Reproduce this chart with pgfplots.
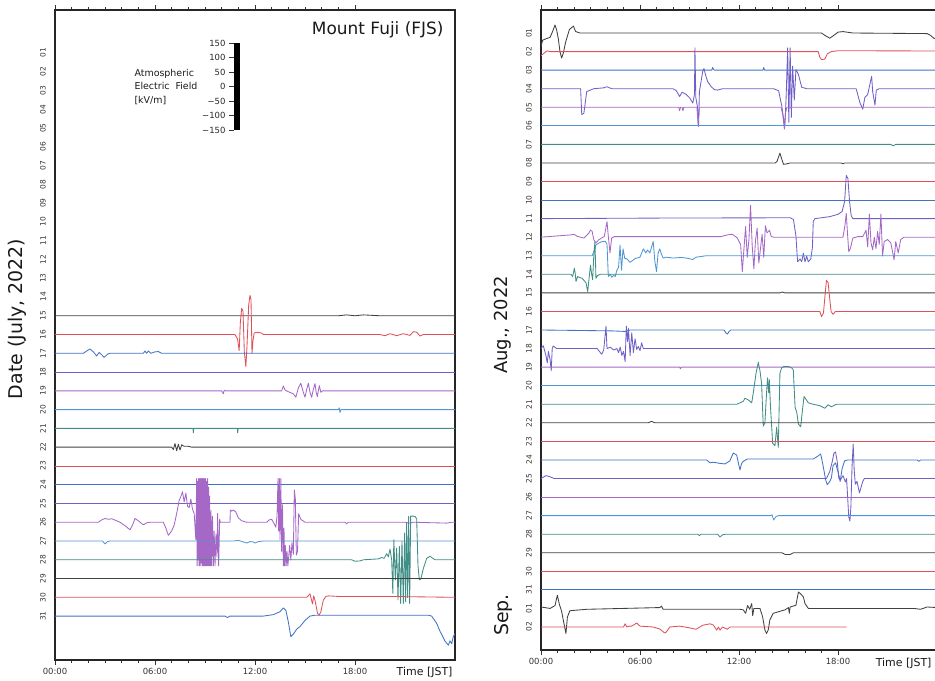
\documentclass[border=0pt]{standalone}
\usepackage{pgfplots}
\pgfplotsset{compat=1.18}
\usepackage{fontspec}
\setmainfont{DejaVu Sans}
\definecolor{cK}{HTML}{404040}
\definecolor{cR}{HTML}{E0505A}
\definecolor{cB}{HTML}{4272C4}
\definecolor{cS}{HTML}{6E60C6}
\definecolor{cP}{HTML}{A668C6}
\definecolor{cL}{HTML}{5096D4}
\definecolor{cT}{HTML}{408E86}
\newcommand{\tr}[3]{\addplot[#2, line width=0.85bp, line join=round] table[row sep=\\, x index=0, y expr={#1-\thisrowno{1}/64.5}] {#3};}
\pgfplotsset{
 panel/.style={
  scale only axis, xmin=0, xmax=24, y dir=reverse,
  xtick={0,6,12,18}, xticklabels={00:00,06:00,12:00,18:00},
  minor x tick num=5, tick align=outside,
  major tick length=5bp, minor tick length=3bp,
  axis line style={line width=1.3bp, draw=black!85},
  xtick style={black!80, line width=0.6bp},
  ytick style={draw=none},
  x tick label style={font=\fontsize{8.5}{9}\selectfont, text=black!80},
  y tick label style={font=\fontsize{7.5}{7.5}\selectfont, rotate=90, anchor=south, inner sep=4bp, text=black!80},
 }
}
\begin{document}
\begin{tikzpicture}
\path[use as bounding box] (0bp,0bp) rectangle (935bp,681bp);
% ---------------- LEFT PANEL (July) ----------------
\begin{axis}[panel, at={(55bp,21bp)}, anchor=south west, width=400bp, height=650bp,
  ymin=-1.29, ymax=33.34,
  ytick={1,...,31},
  yticklabels={01,02,03,04,05,06,07,08,09,10,11,12,13,14,15,16,17,18,19,20,21,22,23,24,25,26,27,28,29,30,31}]
\tr{15}{cK}{0 0\\ 17 0\\ 17.5 3\\ 18 0\\ 18.5 3\\ 19.5 0\\ 24 0\\}
\tr{16}{cR}{0 0\\ 10.8 0\\ 10.95 -15\\ 11.05 -55\\ 11.12 40\\ 11.2 90\\ 11.28 80\\ 11.36 -60\\ 11.45 -110\\ 11.52 -40\\ 11.62 100\\ 11.7 135\\ 11.76 120\\ 11.82 -65\\ 11.88 -20\\ 11.95 5\\ 12.1 8\\ 12.4 5\\ 12.5 0\\ 19.5 0\\ 19.8 -4\\ 20.1 3\\ 20.5 -4\\ 20.9 3\\ 21.3 -3\\ 21.5 10\\ 21.7 8\\ 21.9 -5\\ 22.1 0\\ 24 0\\}
\tr{17}{cB}{0 0\\ 1.7 0\\ 1.9 8\\ 2.1 15\\ 2.3 5\\ 2.5 -9\\ 2.65 3\\ 2.8 -5\\ 2.95 -14\\ 3.15 -3\\ 3.3 0\\ 5.3 0\\ 5.4 8\\ 5.5 0\\ 5.6 8\\ 5.75 0\\ 6.0 5\\ 6.2 6\\ 6.4 0\\ 24 0\\}
\tr{18}{cS}{0 0\\ 24 0\\}
\tr{19}{cP}{0 0\\ 10.0 0\\ 10.1 -10\\ 10.15 2\\ 10.25 0\\ 13.6 0\\ 13.7 17\\ 13.8 3\\ 14.0 -3\\ 14.3 -10\\ 14.45 -22\\ 14.6 10\\ 14.75 26\\ 14.9 -5\\ 15.0 -22\\ 15.1 5\\ 15.2 26\\ 15.3 -5\\ 15.4 -22\\ 15.5 5\\ 15.6 25\\ 15.67 -5\\ 15.74 -20\\ 15.8 0\\ 15.86 18\\ 15.95 -5\\ 16.05 0\\ 24 0\\}
\tr{20}{cL}{0 0\\ 17.0 0\\ 17.05 6\\ 17.1 -10\\ 17.15 0\\ 24 0\\}
\tr{21}{cT}{0 0\\ 8.28 0\\ 8.3 -15\\ 8.33 0\\ 10.94 0\\ 10.96 -15\\ 10.99 0\\ 24 0\\}
\tr{22}{cK}{0 0\\ 7.0 0\\ 7.1 -8\\ 7.2 12\\ 7.3 -12\\ 7.4 10\\ 7.5 -10\\ 7.6 8\\ 7.75 3\\ 8.0 3\\ 8.2 0\\ 24 0\\}
\tr{23}{cR}{0 0\\ 24 0\\}
\tr{24}{cB}{0 0\\ 24 0\\}
\tr{25}{cS}{0 0\\ 24 0\\}
\tr{26}{cP}{0 0\\ 2.6 0\\ 2.8 8\\ 3.0 13\\ 3.2 10\\ 3.4 12\\ 3.7 5\\ 3.9 0\\ 4.2 -12\\ 4.5 -26\\ 4.65 -10\\ 4.8 13\\ 5.0 5\\ 5.3 -9\\ 5.5 -2\\ 5.7 0\\ 6.5 0\\ 6.65 -20\\ 6.8 -45\\ 7.0 -30\\ 7.15 -10\\ 7.3 30\\ 7.45 75\\ 7.55 88\\ 7.65 105\\ 7.75 70\\ 7.85 100\\ 7.95 55\\ 8.05 50\\ 8.15 80\\ 8.25 45\\ 8.35 30\\ 8.45 -60\\ 8.5 150\\ 8.53 -150\\ 8.56 140\\ 8.59 -130\\ 8.62 150\\ 8.65 -150\\ 8.68 150\\ 8.71 -150\\ 8.74 150\\ 8.77 -140\\ 8.8 150\\ 8.83 -150\\ 8.86 150\\ 8.89 -150\\ 8.92 150\\ 8.95 -150\\ 8.98 150\\ 9.01 -150\\ 9.04 150\\ 9.07 -150\\ 9.1 140\\ 9.13 -150\\ 9.16 150\\ 9.19 -150\\ 9.22 120\\ 9.25 -150\\ 9.28 90\\ 9.32 -150\\ 9.36 40\\ 9.4 -150\\ 9.45 20\\ 9.5 -150\\ 9.55 -30\\ 9.6 -150\\ 9.66 -40\\ 9.72 -120\\ 9.76 30\\ 9.82 -150\\ 9.88 10\\ 9.92 0\\ 10.5 0\\ 10.52 42\\ 10.6 38\\ 10.7 42\\ 10.85 35\\ 11.0 15\\ 11.2 5\\ 11.5 0\\ 12.7 0\\ 12.85 8\\ 13.0 10\\ 13.15 -5\\ 13.25 -17\\ 13.32 20\\ 13.38 150\\ 13.42 -30\\ 13.46 150\\ 13.5 -60\\ 13.55 150\\ 13.6 -100\\ 13.65 60\\ 13.7 -150\\ 13.74 -20\\ 13.78 -150\\ 13.82 -80\\ 13.87 -150\\ 13.92 -100\\ 13.97 -150\\ 14.02 -120\\ 14.08 -80\\ 14.15 -130\\ 14.22 -70\\ 14.3 -110\\ 14.36 111\\ 14.42 80\\ 14.48 -113\\ 14.55 -100\\ 14.62 29\\ 14.75 10\\ 15.0 0\\ 17.4 0\\ 17.5 -5\\ 17.6 0\\ 21.0 0\\ 21.3 -3\\ 21.5 0\\ 23.5 -3\\ 23.8 0\\ 24 0\\}
\tr{27}{cL}{0 0\\ 2.85 0\\ 3.0 -10\\ 3.15 -2\\ 3.3 0\\ 10.7 0\\ 11.0 2\\ 11.3 -3\\ 11.5 -7\\ 11.7 -2\\ 11.9 -3\\ 12.0 -7\\ 12.2 -2\\ 12.5 0\\ 24 0\\}
\tr{28}{cT}{0 0\\ 17.8 0\\ 18.0 -5\\ 18.3 -4\\ 18.5 0\\ 19.4 3\\ 19.6 8\\ 19.75 5\\ 19.9 21\\ 20.0 10\\ 20.1 37\\ 20.2 0\\ 20.27 -115\\ 20.33 69\\ 20.42 -69\\ 20.5 40\\ 20.58 -138\\ 20.66 46\\ 20.74 -150\\ 20.82 63\\ 20.9 -150\\ 20.98 92\\ 21.04 -144\\ 21.1 126\\ 21.16 -130\\ 21.22 149\\ 21.28 -150\\ 21.34 150\\ 21.5 150\\ 21.62 148\\ 21.7 140\\ 21.78 -20\\ 21.86 -69\\ 21.95 -66\\ 22.1 -30\\ 22.3 5\\ 22.5 12\\ 22.8 0\\ 24 0\\}
\tr{29}{cK}{0 0\\ 24 0\\}
\tr{30}{cR}{0 0\\ 15.1 0\\ 15.3 12\\ 15.45 -23\\ 15.52 5\\ 15.6 -10\\ 15.75 -55\\ 15.85 -61\\ 15.95 -50\\ 16.1 -10\\ 16.25 3\\ 16.4 5\\ 17 3\\ 20 3\\ 24 0\\}
\tr{31}{cB}{0 0\\ 10.2 0\\ 10.35 -5\\ 10.5 0\\ 12.5 0\\ 13.1 5\\ 13.5 15\\ 13.7 28\\ 13.85 20\\ 14.0 -20\\ 14.15 -71\\ 14.3 -62\\ 14.5 -45\\ 14.7 -36\\ 15.0 -15\\ 15.3 0\\ 15.6 3\\ 22.4 3\\ 22.6 0\\ 22.9 -25\\ 23.1 -52\\ 23.4 -86\\ 23.6 -100\\ 23.7 -85\\ 23.8 -95\\ 23.9 -70\\ 24 -60\\}
\end{axis}
% ---------------- SCALE BAR ----------------
\begin{axis}[at={(234bp,551bp)}, anchor=south west, scale only axis, width=6bp, height=87bp,
  xmin=0, xmax=1, ymin=-150, ymax=150, axis x line=none, axis y line*=left,
  ytick={-150,-100,-50,0,50,100,150}, yticklabels={−150,−100,−50,0,50,100,150},
  tick align=outside, major tick length=5bp, ytick style={black!80, line width=0.6bp},
  y tick label style={font=\fontsize{8.5}{9}\selectfont, text=black!85}]
\addplot[black, line width=6bp] coordinates {(0.5,-150) (0.5,150)};
\end{axis}
% ---------------- RIGHT PANEL (Aug/Sep) ----------------
\begin{axis}[panel, at={(541bp,31bp)}, anchor=south west, width=396bp, height=640bp,
  ymin=-0.24, ymax=34.24,
  ytick={1,...,33},
  yticklabels={01,02,03,04,05,06,07,08,09,10,11,12,13,14,15,16,17,18,19,20,21,22,23,24,25,26,27,28,29,30,31,01,02}]
\tr{1}{cK}{0 -47\\ 0.1 -25\\ 0.3 -20\\ 0.55 -15\\ 0.7 5\\ 0.85 28\\ 0.95 10\\ 1.05 -20\\ 1.15 -65\\ 1.25 -87\\ 1.35 -70\\ 1.5 -30\\ 1.72 12\\ 1.96 24\\ 2.1 5\\ 2.36 0\\ 17.0 0\\ 17.2 -8\\ 17.5 -18\\ 17.7 -10\\ 18.0 3\\ 18.3 5\\ 18.9 0\\ 23.4 -2\\ 23.6 -8\\ 23.8 -18\\ 24 -20\\}
\tr{2}{cR}{0 -14\\ 0.2 -5\\ 0.35 2\\ 0.6 0\\ 16.8 0\\ 16.9 -20\\ 17.0 -28\\ 17.2 -26\\ 17.35 -8\\ 17.6 0\\ 18.0 3\\ 24 2\\}
\tr{3}{cB}{0 0\\ 10.35 0\\ 10.4 9\\ 10.45 3\\ 10.5 0\\ 13.45 0\\ 13.5 9\\ 13.55 0\\ 24 0\\}
\tr{4}{cS}{0 0\\ 2.4 0\\ 2.47 -90\\ 2.6 -85\\ 2.77 -10\\ 3.2 0\\ 3.8 3\\ 4.0 7\\ 4.15 3\\ 4.3 0\\ 8.0 0\\ 8.2 -7\\ 8.4 -27\\ 8.55 -12\\ 8.8 -20\\ 9.0 -31\\ 9.2 -50\\ 9.3 -20\\ 9.33 142\\ 9.38 -30\\ 9.48 -62\\ 9.55 -131\\ 9.6 -10\\ 9.7 25\\ 9.8 60\\ 9.88 70\\ 9.96 50\\ 10.1 25\\ 10.3 8\\ 10.5 -3\\ 10.7 -5\\ 11.0 0\\ 14.1 0\\ 14.4 -7\\ 14.6 -62\\ 14.77 -135\\ 14.85 -40\\ 14.95 142\\ 15.02 -117\\ 15.1 142\\ 15.17 -100\\ 15.25 78\\ 15.35 -40\\ 15.45 66\\ 15.6 50\\ 15.8 5\\ 16.1 0\\ 19.1 0\\ 19.33 -49\\ 19.5 -71\\ 19.63 -30\\ 19.8 -20\\ 19.95 20\\ 20.04 43\\ 20.1 -10\\ 20.24 -57\\ 20.32 -5\\ 20.5 0\\ 24 0\\}
\tr{5}{cP}{0 0\\ 8.35 0\\ 8.4 -12\\ 8.45 0\\ 8.55 0\\ 8.6 -12\\ 8.65 0\\ 9.45 0\\ 9.52 -62\\ 9.56 -30\\ 9.6 0\\ 14.55 0\\ 14.65 -25\\ 14.75 -76\\ 14.82 -20\\ 14.9 0\\ 24 0\\}
\tr{6}{cL}{0 0\\ 24 0\\}
\tr{7}{cT}{0 0\\ 21.2 0\\ 21.35 -5\\ 21.5 0\\ 24 0\\}
\tr{8}{cK}{0 0\\ 14.2 0\\ 14.3 5\\ 14.48 34\\ 14.58 15\\ 14.7 -5\\ 14.9 -3\\ 15.1 0\\ 18.2 0\\ 18.3 -3\\ 18.4 0\\ 24 0\\}
\tr{9}{cR}{0 0\\ 24 0\\}
\tr{10}{cB}{0 0\\ 24 0\\}
\tr{11}{cS}{0 0\\ 7.4 2\\ 15.1 3\\ 15.3 -3\\ 15.45 -60\\ 15.55 -150\\ 15.7 -140\\ 15.8 -150\\ 15.9 -120\\ 16.0 -150\\ 16.1 -130\\ 16.2 -150\\ 16.35 -140\\ 16.45 -100\\ 16.5 -10\\ 16.6 0\\ 17.0 3\\ 17.5 7\\ 18.0 15\\ 18.25 25\\ 18.4 60\\ 18.5 150\\ 18.6 140\\ 18.7 60\\ 18.8 10\\ 18.9 0\\ 24 0\\}
\tr{12}{cP}{0 0\\ 1.8 8\\ 2.0 10\\ 2.2 3\\ 2.6 -3\\ 2.9 14\\ 3.0 25\\ 3.1 20\\ 3.2 -9\\ 3.33 -20\\ 3.5 -9\\ 3.84 3\\ 4.0 54\\ 4.08 3\\ 4.18 -55\\ 4.28 -3\\ 4.44 2\\ 10.9 2\\ 11.3 8\\ 11.6 10\\ 11.9 -3\\ 12.1 -26\\ 12.2 -120\\ 12.3 -40\\ 12.4 37\\ 12.5 -70\\ 12.6 -10\\ 12.7 111\\ 12.8 -30\\ 12.9 -110\\ 13.0 -10\\ 13.1 31\\ 13.2 -90\\ 13.3 -40\\ 13.4 10\\ 13.5 -70\\ 13.6 40\\ 13.7 15\\ 13.85 24\\ 13.95 3\\ 14.1 0\\ 18.3 0\\ 18.42 40\\ 18.5 83\\ 18.58 10\\ 18.65 -50\\ 18.75 -39\\ 18.9 -3\\ 19.2 2\\ 19.5 2\\ 19.7 24\\ 19.8 -34\\ 19.9 80\\ 20.0 -20\\ 20.1 -44\\ 20.2 0\\ 20.3 -40\\ 20.4 20\\ 20.5 -25\\ 20.6 80\\ 20.7 -65\\ 20.8 -15\\ 21.0 -8\\ 21.2 -20\\ 21.4 -78\\ 21.5 -15\\ 21.65 -55\\ 21.8 -8\\ 22.0 0\\ 24 0\\}
\tr{13}{cL}{0 0\\ 3.1 0\\ 3.2 14\\ 3.33 38\\ 3.5 44\\ 3.7 49\\ 3.9 50\\ 4.0 40\\ 4.08 -72\\ 4.2 -65\\ 4.3 -75\\ 4.4 -68\\ 4.5 -72\\ 4.6 -50\\ 4.7 -40\\ 4.79 37\\ 4.88 -50\\ 4.97 24\\ 5.08 -10\\ 5.19 -10\\ 5.4 -23\\ 5.7 -10\\ 6.0 -5\\ 6.2 24\\ 6.35 10\\ 6.45 20\\ 6.6 10\\ 6.8 50\\ 6.9 -19\\ 7.0 -55\\ 7.1 10\\ 7.2 24\\ 7.3 5\\ 7.4 -8\\ 7.6 -5\\ 8.0 -8\\ 8.5 -6\\ 8.8 -8\\ 9.2 -13\\ 9.4 -5\\ 10.0 0\\ 24 0\\}
\tr{14}{cT}{0 0\\ 1.82 0\\ 1.92 -8\\ 2.02 21\\ 2.07 5\\ 2.12 -25\\ 2.22 -8\\ 2.5 -14\\ 2.73 -30\\ 2.83 -60\\ 2.93 -5\\ 3.0 32\\ 3.07 0\\ 3.13 -19\\ 3.2 66\\ 3.27 113\\ 3.33 -14\\ 3.43 -4\\ 3.6 0\\ 24 0\\}
\tr{15}{cK}{0 0\\ 14.5 0\\ 14.6 3\\ 14.8 0\\ 24 0\\}
\tr{16}{cR}{0 0\\ 16.9 0\\ 17.0 -18\\ 17.12 -5\\ 17.22 60\\ 17.3 108\\ 17.4 100\\ 17.48 55\\ 17.58 0\\ 17.7 -10\\ 17.85 0\\ 24 0\\}
\tr{17}{cB}{0 0\\ 4.3 -3\\ 5.1 -5\\ 5.4 0\\ 11.1 0\\ 11.2 -10\\ 11.3 -14\\ 11.4 -5\\ 11.5 0\\ 24 0\\}
\tr{18}{cS}{0 0\\ 0.14 10\\ 0.3 -25\\ 0.38 -50\\ 0.45 -10\\ 0.55 -38\\ 0.62 -77\\ 0.68 0\\ 0.74 9\\ 0.95 0\\ 3.4 0\\ 3.68 -20\\ 3.8 -5\\ 3.94 78\\ 4.0 0\\ 4.2 5\\ 4.4 -5\\ 4.6 0\\ 4.7 -14\\ 4.8 5\\ 4.9 -24\\ 5.0 -10\\ 5.1 -45\\ 5.17 78\\ 5.25 24\\ 5.3 70\\ 5.4 -24\\ 5.5 55\\ 5.6 -14\\ 5.7 34\\ 5.8 -3\\ 5.9 7\\ 6.0 -7\\ 6.1 20\\ 6.2 0\\ 24 0\\}
\tr{19}{cP}{0 0\\ 8.4 0\\ 8.45 -6\\ 8.5 0\\ 24 0\\}
\tr{20}{cL}{0 0\\ 24 0\\}
\tr{21}{cT}{0 0\\ 11.86 0\\ 12.26 10\\ 12.36 21\\ 12.56 15\\ 12.77 5\\ 12.87 41\\ 13.03 107\\ 13.17 146\\ 13.27 117\\ 13.37 71\\ 13.47 -76\\ 13.57 -65\\ 13.67 40\\ 13.73 92\\ 13.8 40\\ 13.84 85\\ 13.9 0\\ 14.04 -136\\ 14.18 -144\\ 14.28 -80\\ 14.38 -150\\ 14.48 107\\ 14.58 126\\ 14.72 131\\ 15.0 131\\ 15.2 126\\ 15.29 120\\ 15.4 -11\\ 15.5 -28\\ 15.6 -69\\ 15.74 -78\\ 15.84 -23\\ 15.94 27\\ 16.06 17\\ 16.2 5\\ 16.5 0\\ 16.9 -5\\ 17.2 -14\\ 17.4 -2\\ 17.6 -9\\ 17.9 0\\ 24 0\\}
\tr{22}{cK}{0 0\\ 6.5 0\\ 6.7 5\\ 6.9 0\\ 24 0\\}
\tr{23}{cR}{0 0\\ 24 0\\}
\tr{24}{cB}{0 0\\ 10.04 0\\ 10.24 -10\\ 10.44 -8\\ 10.85 -12\\ 11.15 -14\\ 11.45 -3\\ 11.65 24\\ 11.86 17\\ 11.96 -10\\ 12.06 -35\\ 12.16 -12\\ 12.26 -5\\ 12.5 3\\ 13.1 3\\ 16.5 3\\ 16.8 14\\ 16.95 21\\ 17.1 -21\\ 17.25 -69\\ 17.35 -86\\ 17.5 -75\\ 17.6 -62\\ 17.7 -20\\ 17.85 -10\\ 18.05 -52\\ 18.13 -75\\ 18.25 -30\\ 18.4 -3\\ 18.6 0\\ 22.8 0\\ 22.9 -5\\ 23.0 0\\ 24 0\\}
\tr{25}{cS}{0 0\\ 0.15 5\\ 0.3 10\\ 0.5 7\\ 0.8 0\\ 17.3 0\\ 17.5 24\\ 17.65 58\\ 17.75 88\\ 17.85 92\\ 17.95 60\\ 18.05 0\\ 18.15 -5\\ 18.3 10\\ 18.45 -12\\ 18.52 0\\ 18.58 -60\\ 18.65 -133\\ 18.72 -148\\ 18.78 -100\\ 18.85 40\\ 18.92 120\\ 18.98 30\\ 19.05 -20\\ 19.15 -10\\ 19.3 -50\\ 19.4 -30\\ 19.5 -10\\ 19.6 0\\ 24 0\\}
\tr{26}{cP}{0 0\\ 24 0\\}
\tr{27}{cL}{0 0\\ 13.9 0\\ 14.0 3\\ 14.1 -15\\ 14.25 -3\\ 14.4 0\\ 24 0\\}
\tr{28}{cT}{0 0\\ 9.5 0\\ 9.6 -5\\ 9.7 0\\ 10.7 0\\ 10.85 -10\\ 11.0 -2\\ 11.2 0\\ 24 0\\}
\tr{29}{cK}{0 0\\ 14.6 0\\ 14.8 -6\\ 15.1 -6\\ 15.3 0\\ 24 0\\}
\tr{30}{cR}{0 0\\ 24 0\\}
\tr{31}{cB}{0 0\\ 24 0\\}
\tr{32}{cK}{0 5\\ 0.55 0\\ 0.85 10\\ 0.99 46\\ 1.11 15\\ 1.25 -10\\ 1.39 -52\\ 1.51 -87\\ 1.6 -30\\ 1.75 -8\\ 2.36 -5\\ 2.77 -3\\ 7.2 3\\ 7.3 8\\ 7.4 -3\\ 12.06 -3\\ 12.26 -5\\ 12.4 -17\\ 12.52 10\\ 12.65 -3\\ 12.77 17\\ 12.83 -25\\ 12.9 0\\ 13.27 0\\ 13.43 -29\\ 13.57 -75\\ 13.67 -87\\ 13.77 -75\\ 13.87 -40\\ 14.07 -17\\ 14.48 -10\\ 14.79 -5\\ 15.0 3\\ 15.05 -17\\ 15.1 5\\ 15.45 11\\ 15.6 57\\ 15.75 50\\ 15.9 40\\ 16.0 17\\ 16.2 0\\ 22.6 0\\ 23.0 -3\\ 23.4 5\\ 24 3\\}
\tr{33}{cR}{0 0\\ 5.0 0\\ 5.1 11\\ 5.2 0\\ 5.35 3\\ 5.5 3\\ 5.8 14\\ 6.0 3\\ 6.8 0\\ 7.2 -7\\ 7.5 -21\\ 7.6 -17\\ 7.8 0\\ 8.4 3\\ 9.0 -3\\ 9.4 -8\\ 9.8 6\\ 10.24 11\\ 10.44 7\\ 10.65 -11\\ 10.75 0\\ 10.85 -11\\ 11.0 0\\ 11.3 -8\\ 11.45 0\\ 18.52 0\\}
\end{axis}
% ---------------- TEXT ----------------
\node[anchor=east, font=\fontsize{17}{17}\selectfont, text=black!90] at (447bp,651bp) {Mount Fuji (FJS)};
\node[anchor=west, align=left, font=\fontsize{9.5}{13.5}\selectfont, text=black!90] at (131bp,594bp) {Atmospheric\\Electric\ \ Field\\{[kV/m]}};
\node[rotate=90, font=\fontsize{19}{19}\selectfont, text=black!90] at (17bp,362bp) {Date (July, 2022)};
\node[rotate=90, font=\fontsize{18}{18}\selectfont, text=black!90] at (503bp,356bp) {Aug., 2022};
\node[rotate=90, font=\fontsize{19}{19}\selectfont, text=black!90] at (503bp,66bp) {Sep.};
\node[anchor=east, font=\fontsize{11}{11}\selectfont, text=black!90] at (456bp,9bp) {Time [JST]};
\node[anchor=east, font=\fontsize{11}{11}\selectfont, text=black!90] at (935bp,18bp) {Time [JST]};
\end{tikzpicture}
\end{document}
